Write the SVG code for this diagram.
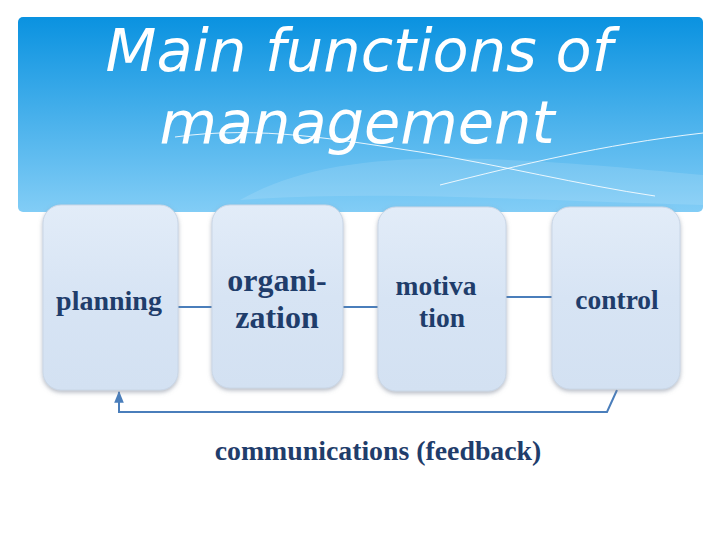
<svg xmlns="http://www.w3.org/2000/svg" width="720" height="540" viewBox="0 0 720 540">
<style>
.title{font-family:"DejaVu Sans",sans-serif;font-style:italic;font-size:59px;fill:#ffffff;text-anchor:middle}
.lbl{font-family:"Liberation Serif",serif;font-weight:bold;fill:#1f3d6b;text-anchor:middle}
.box{fill:url(#boxg);stroke:#c9d6e6;stroke-width:1;filter:url(#sh)}
.conn{stroke:#4a7ebb;stroke-width:2;fill:none}
.wave{stroke:#ffffff;stroke-width:1;fill:none;opacity:0.85}
</style>
<defs>
<linearGradient id="hdr" x1="0" y1="0" x2="0" y2="1">
<stop offset="0" stop-color="#0a92e0"/>
<stop offset="1" stop-color="#82cdf6"/>
</linearGradient>
<linearGradient id="boxg" x1="0" y1="0" x2="0" y2="1">
<stop offset="0" stop-color="#e2ecf8"/>
<stop offset="0.5" stop-color="#d7e4f4"/>
<stop offset="1" stop-color="#d3e1f2"/>
</linearGradient>
<filter id="sh" x="-20%" y="-20%" width="140%" height="140%">
<feDropShadow dx="0" dy="2" stdDeviation="2" flood-color="#7a8494" flood-opacity="0.55"/>
</filter>
<marker id="arr" viewBox="0 0 10 10" refX="9" refY="5" markerWidth="6" markerHeight="6" orient="auto">
<path d="M0,1 L10,5 L0,9 z" fill="#4a7ebb"/>
</marker>
</defs>
<rect width="720" height="540" fill="#ffffff"/>
<g id="header">
<rect x="18" y="17" width="685" height="195" rx="5" fill="url(#hdr)"/>
<path d="M240,200 C330,150 450,150 703,175 L703,205 C520,200 380,190 240,200 z" fill="#ffffff" opacity="0.12"/>
<path class="wave" d="M175,137 C260,125 340,140 420,152 C500,165 580,185 655,196"/>
<path class="wave" d="M440,185 C520,165 600,145 703,133"/>
<text class="title" x="359" y="71">Main functions of</text>
<text class="title" x="357" y="143">management</text>
</g>
<g id="connectors">
<line class="conn" x1="178" y1="307" x2="212" y2="307"/>
<line class="conn" x1="343" y1="307" x2="378" y2="307"/>
<line class="conn" x1="506" y1="297" x2="552" y2="297"/>
<polyline class="conn" points="617,390 607,412 119,412 119,392" marker-end="url(#arr)"/>
</g>
<g id="planning">
<rect class="box" x="43" y="205" width="135" height="185" rx="18"/>
<text class="lbl" x="109" y="310" font-size="28">planning</text>
</g>
<g id="organization">
<rect class="box" x="212" y="205" width="131" height="183" rx="18"/>
<text class="lbl" x="277" y="291" font-size="32">organi-</text>
<text class="lbl" x="277" y="328" font-size="32">zation</text>
</g>
<g id="motivation">
<rect class="box" x="378" y="207" width="128" height="184" rx="18"/>
<text class="lbl" x="436" y="295" font-size="27.5">motiva</text>
<text class="lbl" x="442" y="327" font-size="27.5">tion</text>
</g>
<g id="control">
<rect class="box" x="552" y="207" width="128" height="182" rx="18"/>
<text class="lbl" x="617" y="309" font-size="27.5">control</text>
</g>
<text class="lbl" x="378" y="460" font-size="27.8">communications (feedback)</text>
</svg>
